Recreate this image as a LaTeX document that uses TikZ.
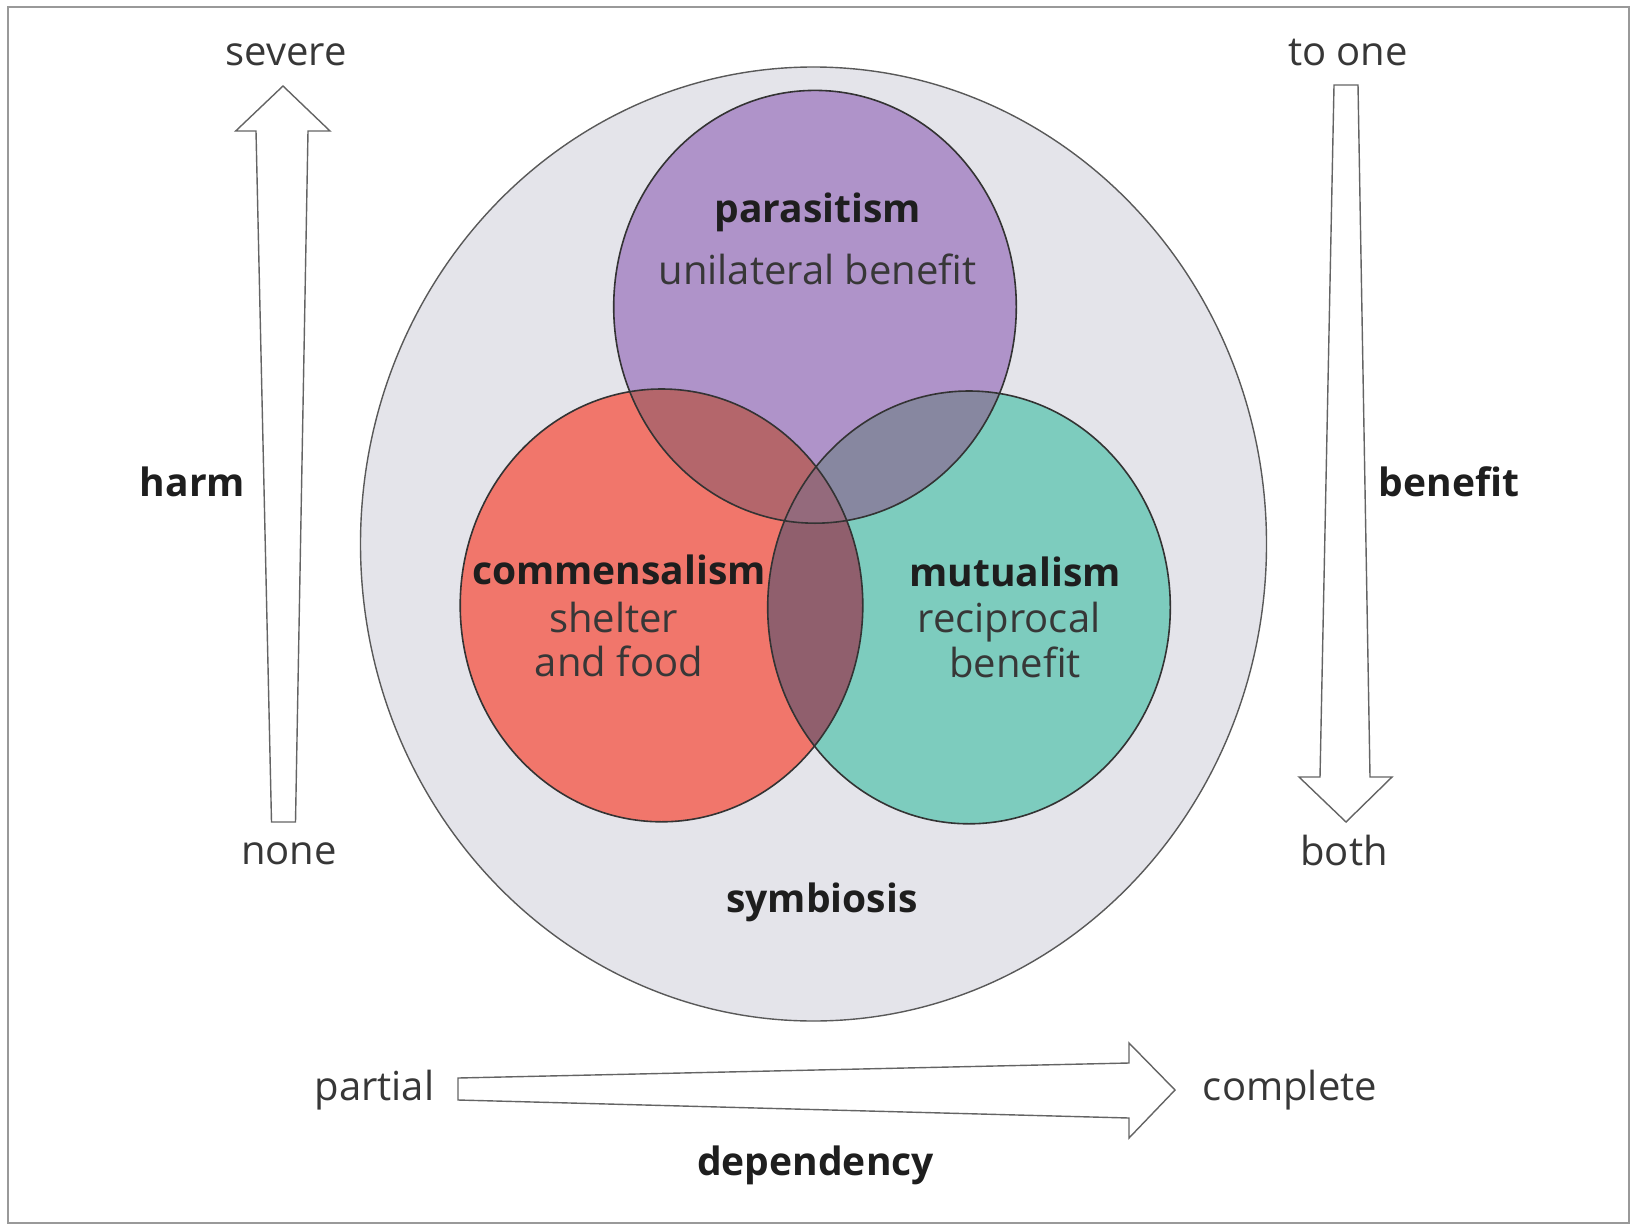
\documentclass[tikz,border=0pt]{standalone}
\usepackage{fontspec}
\setmainfont{Open Sans}
\definecolor{outerfill}{RGB}{228,228,234}
\definecolor{pfill}{RGB}{175,147,201}
\definecolor{cfill}{RGB}{241,118,107}
\definecolor{mfill}{RGB}{125,204,190}
\definecolor{pcfill}{RGB}{180,102,107}
\definecolor{pmfill}{RGB}{135,135,160}
\definecolor{cmfill}{RGB}{144,95,109}
\definecolor{pcmfill}{RGB}{148,106,124}
\definecolor{txtdark}{RGB}{30,30,30}
\definecolor{txtreg}{RGB}{55,55,55}
\definecolor{arrowline}{RGB}{100,100,100}
\def\ellP{(815,306.8) ellipse [x radius=201.3, y radius=216.4]}
\def\ellC{(661.5,605.4) ellipse [x radius=201.3, y radius=216.4]}
\def\ellM{(969,607.4) ellipse [x radius=201.3, y radius=216.4]}
\begin{document}
\begin{tikzpicture}[x=0.5pt,y=-0.5pt,
  lbl/.style={font=\fontsize{20}{22}\selectfont, text=txtreg, inner sep=0pt},
  blbl/.style={font=\fontsize{19.5}{22}\selectfont\bfseries, text=txtdark, inner sep=0pt},
  blockarrow/.style={draw=arrowline, fill=white, line width=0.7pt, line join=miter},
  venn/.style={draw=black!80, line width=0.8pt}]
\useasboundingbox (0,0) rectangle (1631,1225);
\draw[gray!80, line width=1.2pt] (8,7) rectangle (1629,1223);

% outer ellipse
\fill[outerfill] (813.5,544) ellipse [x radius=453, y radius=477];
\draw[black!65, line width=0.7pt] (813.5,544) ellipse [x radius=453, y radius=477];

% base circles
\fill[pfill] \ellP;
\fill[cfill] \ellC;
\fill[mfill] \ellM;
% pairwise overlaps
\begin{scope}\clip \ellP; \fill[pcfill] \ellC; \end{scope}
\begin{scope}\clip \ellP; \fill[pmfill] \ellM; \end{scope}
\begin{scope}\clip \ellC; \fill[cmfill] \ellM; \end{scope}
\begin{scope}\clip \ellP; \clip \ellC; \fill[pcmfill] \ellM; \end{scope}
% outlines
\draw[venn] \ellP;
\draw[venn] \ellC;
\draw[venn] \ellM;

% block arrows
\draw[blockarrow] (283,86) -- (330,131) -- (308,131) -- (295.5,822) -- (271.5,822) -- (256,131) -- (235.7,131) -- cycle;
\draw[blockarrow] (1334,85) -- (1358,85) -- (1370,777) -- (1392,777) -- (1346,822) -- (1299,777) -- (1320,777) -- cycle;
\draw[blockarrow] (458,1078) -- (1129,1063) -- (1129,1043) -- (1175,1090) -- (1129,1138) -- (1129,1118) -- (458,1100) -- cycle;

% texts
\node[lbl] (severe) at (286,55) {severe};
\node[lbl] (none) at (289,854) {none};
\node[blbl] (harm) at (192.5,481.6) {harm};
\node[lbl] (toone) at (1348,53) {to one};
\node[lbl] (both) at (1344,850) {both};
\node[blbl] (benefitlbl) at (1449,481.6) {benefit};
\node[blbl] (parasitism) at (817.6,212) {parasitism};
\node[lbl] (unilateral) at (817.6,269.4) {unilateral benefit};
\node[blbl] (commensalism) at (619,570) {commensalism};
\node[lbl] (shelter) at (613.7,617) {shelter};
\node[lbl] (andfood) at (619,661.6) {and food};
\node[blbl] (mutualism) at (1015,572) {mutualism};
\node[lbl] (reciprocal) at (1009,622) {reciprocal};
\node[lbl] (benefitm) at (1015,662.6) {benefit};
\node[blbl] (symbiosis) at (821.8,902.8) {symbiosis};
\node[lbl] (partial) at (374.5,1090) {partial};
\node[lbl] (complete) at (1290,1090) {complete};
\node[blbl] (dependency) at (815.5,1165) {dependency};
\end{tikzpicture}
\end{document}
